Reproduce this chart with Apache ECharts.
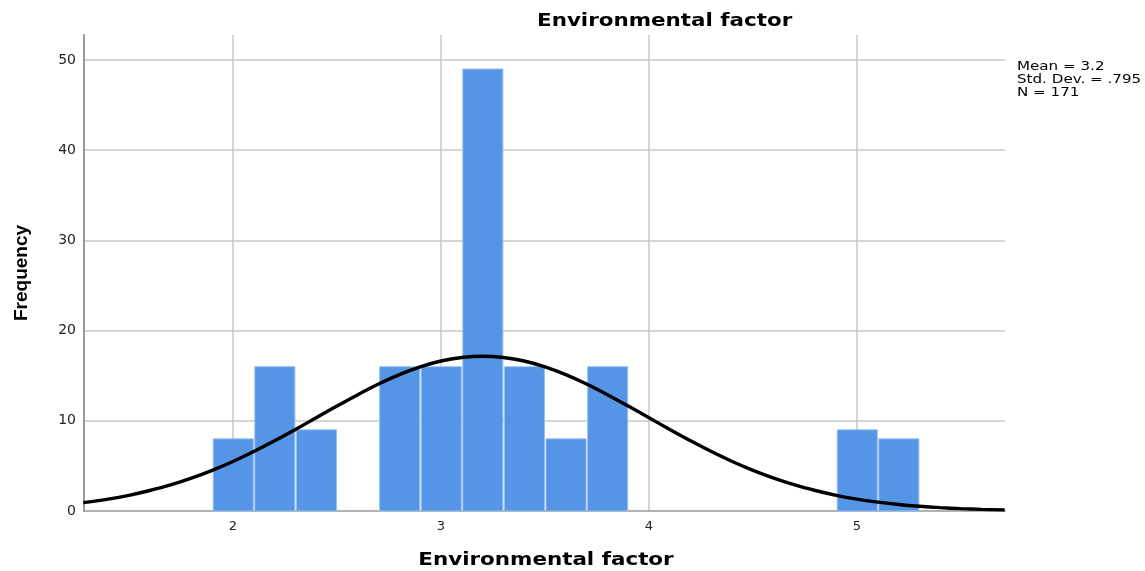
<!DOCTYPE html>
<html>
<head>
<meta charset="utf-8">
<script src="https://cdn.jsdelivr.net/npm/echarts@6/dist/echarts.min.js"></script>
<style>html,body{margin:0;padding:0;background:#fff}#c{width:1145px;height:571px}</style>
</head>
<body>
<div id="c"></div>
<script>
// Histogram bins (lower edge, upper edge) and frequencies
const binStart = [1.9, 2.1, 2.3, 2.7, 2.9, 3.1, 3.3, 3.5, 3.7, 4.9, 5.1];
const binEnd   = [2.1, 2.3, 2.5, 2.9, 3.1, 3.3, 3.5, 3.7, 3.9, 5.1, 5.3];
const counts   = [8, 16, 9, 16, 16, 49, 16, 8, 16, 9, 8];
// Normal curve points
const curveX = [1.28,1.4,1.5,1.6,1.7,1.8,1.9,2.0,2.1,2.2,2.3,2.4,2.5,2.6,2.7,2.8,2.9,3.0,3.1,3.2,3.3,3.4,3.5,3.6,3.7,3.8,3.9,4.0,4.1,4.2,4.3,4.4,4.5,4.6,4.7,4.8,4.9,5.0,5.1,5.2,5.3,5.4,5.5,5.6,5.71];
const curveY = [0.93,1.32,1.74,2.27,2.89,3.64,4.51,5.49,6.59,7.78,9.04,10.34,11.64,12.90,14.08,15.12,15.98,16.63,17.02,17.16,17.02,16.63,15.98,15.12,14.08,12.90,11.64,10.34,9.04,7.78,6.59,5.49,4.51,3.64,2.89,2.27,1.74,1.32,0.99,0.72,0.52,0.37,0.26,0.18,0.12];
const xTicks = [2, 3, 4, 5];
const yTicks = [10, 20, 30, 40, 50];
const titleText = 'Environmental factor';
const xAxisTitle = 'Environmental factor';
const yAxisTitle = 'Frequency';
const statsText = ['Mean = 3.2', 'Std. Dev. = .795', 'N = 171'];

const WIDE = '"DejaVu Sans", Arial, sans-serif';
const NARROW = '"Liberation Sans", Arial, sans-serif';
const chart = echarts.init(document.getElementById('c'), null, {renderer: 'canvas'});

const barData = binStart.map((s, i) => [s, binEnd[i], counts[i]]);
const curveData = curveX.map((x, i) => [x, curveY[i]]);
const gridLineStyle = {color: '#c8c8c8', width: 1.5, type: 'solid'};

function txt(text, x, y, size, weight, align, sx) {
  return {
    type: 'text', x: x, y: y, scaleX: sx, scaleY: 1, silent: true, z: 10,
    style: {
      text: text, fill: '#000',
      fontFamily: WIDE, fontSize: size, fontWeight: weight,
      align: align, verticalAlign: 'middle',
      textAlign: align, textVerticalAlign: 'middle'
    }
  };
}

chart.setOption({
  backgroundColor: '#ffffff',
  animation: false,
  graphic: [
    txt(titleText, 537, 21, 18, 'bold', 'left', 1.19),
    txt(xAxisTitle, 546, 560, 18, 'bold', 'center', 1.19),
    txt(statsText[0], 1017, 67, 12, 'normal', 'left', 1.26),
    txt(statsText[1], 1017, 80, 12, 'normal', 'left', 1.26),
    txt(statsText[2], 1017, 93, 12, 'normal', 'left', 1.26)
  ],
  grid: {left: 84, right: 140, top: 35, bottom: 60, containLabel: false},
  xAxis: {
    type: 'value', min: 1.2837, max: 5.7115,
    axisLine: {show: true, lineStyle: {color: '#999', width: 1.5}},
    axisTick: {show: false},
    splitLine: {show: false},
    axisLabel: {fontFamily: WIDE, fontSize: 13, color: '#222', margin: 9,
      showMinLabel: false, showMaxLabel: false,
      formatter: v => (xTicks.indexOf(v) >= 0 ? String(v) : '')}
  },
  yAxis: {
    type: 'value', min: 0, max: 52.77,
    name: yAxisTitle, nameLocation: 'middle', nameGap: 53, nameRotate: 90,
    nameTextStyle: {fontFamily: NARROW, fontSize: 19, fontWeight: 'bold', color: '#000'},
    axisLine: {show: true, lineStyle: {color: '#999', width: 2}},
    axisTick: {show: false},
    splitLine: {show: false},
    axisLabel: {fontFamily: WIDE, fontSize: 14, color: '#222', margin: 8,
      showMaxLabel: false,
      formatter: v => (v === 0 || yTicks.indexOf(v) >= 0 ? String(v) : '')}
  },
  series: [
    {
      type: 'line', data: [], z: 0, silent: true,
      markLine: {
        z: 0, silent: true, symbol: 'none', label: {show: false},
        lineStyle: gridLineStyle, animation: false,
        data: xTicks.map(v => ({xAxis: v})).concat(yTicks.map(v => ({yAxis: v})))
      }
    },
    {
      type: 'custom', z: 2,
      data: barData,
      renderItem: function (params, api) {
        const p0 = api.coord([api.value(0), api.value(2)]);
        const p1 = api.coord([api.value(1), 0]);
        return {
          type: 'rect',
          shape: {x: p0[0] + 1, y: p0[1], width: p1[0] - p0[0] - 1.5, height: p1[1] - p0[1]},
          style: {fill: '#5595e5', stroke: '#9cc0ef', lineWidth: 1}
        };
      },
      encode: {x: [0, 1], y: 2}
    },
    {
      type: 'line', z: 3, data: curveData, smooth: 0.3, showSymbol: false, silent: true,
      lineStyle: {color: '#000', width: 3.4}
    }
  ]
});
</script>
</body>
</html>
